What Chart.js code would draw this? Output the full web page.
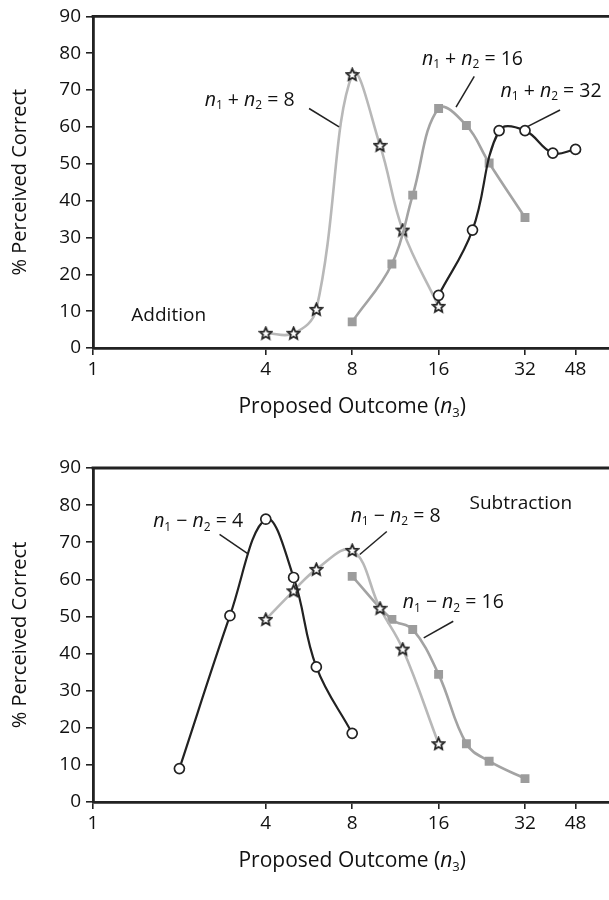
<!DOCTYPE html>
<html><head><meta charset="utf-8">
<script src="https://cdn.jsdelivr.net/npm/chart.js@4.4.1/dist/chart.umd.min.js"></script>
<style>
html,body{margin:0;padding:0;background:#fff;overflow:hidden;width:609px;height:900px}
.wrap{position:relative;width:620px;height:450px}
canvas{display:block}
</style></head>
<body>
<div class="wrap"><canvas id="c1" width="620" height="450"></canvas></div>
<div class="wrap"><canvas id="c2" width="620" height="450"></canvas></div>
<script>
// ---------- data ----------
const xTicks = [1, 4, 8, 16, 32, 48];
const yTicks = [0, 10, 20, 30, 40, 50, 60, 70, 80, 90];

const addX8  = [4, 5, 6, 8, 10, 12, 16];
const addY8  = [4, 4, 10.5, 74.2, 55, 32, 11.3];
const addX16 = [8, 11, 13, 16, 20, 24, 32];
const addY16 = [7.1, 22.8, 41.5, 65, 60.4, 50.2, 35.4];
const addX32 = [16, 21, 26, 32, 40, 48];
const addY32 = [14.3, 32, 59, 59, 52.9, 53.9];

const subX4  = [2, 3, 4, 5, 6, 8];
const subY4  = [9, 50.2, 76.2, 60.5, 36.4, 18.5];
const subX8  = [4, 5, 6, 8, 10, 12, 16];
const subY8  = [49.2, 56.9, 62.7, 67.8, 52.2, 41.2, 15.7];
const subX16 = [8, 11, 13, 16, 20, 24, 32];
const subY16 = [60.8, 49.2, 46.5, 34.4, 15.7, 11, 6.3];

// annotation labels: left x, center y, leader from (x,y) to (x,y), in data units
const addLabels = [
  {op:'+', val:'8',  x:2.45, y:67.2, l:[5.66,65,7.2,60]},
  {op:'+', val:'16', x:14.0, y:78.3, l:[21.3,73.7,18.4,65.4]},
  {op:'+', val:'32', x:26.3, y:69.6, l:[42.4,64.6,32.5,60]}
];
const subLabels = [
  {op:'\u2212', val:'4',  x:1.62, y:75.5, l:[2.76,72.1,3.48,66.8]},
  {op:'\u2212', val:'8',  x:7.9,  y:77,   l:[10.56,72.9,8.5,66.7]},
  {op:'\u2212', val:'16', x:12.0, y:53.7, l:[18,48.7,14.2,44.2]}
];
const addText = {t:'Addition', x:1.36, y:8.8};
const subText = {t:'Subtraction', x:20.5, y:80.3};

// ---------- styles ----------
const FONT = '"Open Sans", "Noto Sans", sans-serif';
const DARK = '#222222';
const LIGHT = '#b8b8b8';
const MID = '#a3a3a3';
const SQ = '#9c9c9c';

function starImg(){
  const c = document.createElement('canvas');
  c.width = 15; c.height = 15;
  const g = c.getContext('2d');
  g.beginPath();
  for (let i = 0; i < 10; i++) {
    const r = i % 2 === 0 ? 6.2 : 2.9;
    const a = -Math.PI/2 + i*Math.PI/5;
    const px = 7.5 + r*Math.cos(a), py = 7.9 + r*Math.sin(a);
    if (i === 0) g.moveTo(px, py); else g.lineTo(px, py);
  }
  g.closePath();
  g.fillStyle = '#fff'; g.fill();
  g.lineWidth = 1.8; g.strokeStyle = DARK; g.lineJoin = 'miter'; g.stroke();
  return c;
}
const STAR = starImg();

function pts(xs, ys){ return xs.map((x,i)=>({x:x, y:ys[i]})); }

function dsCircle(xs, ys){
  return {data: pts(xs, ys), borderColor: DARK, borderWidth: 2.2, tension: 0.4,
    pointStyle:'circle', pointRadius:5, pointBackgroundColor:'#fff',
    pointBorderColor: DARK, pointBorderWidth:1.7};
}
function dsStar(xs, ys){
  return {data: pts(xs, ys), borderColor: LIGHT, borderWidth: 2.6, tension: 0.4,
    pointStyle: STAR, pointRadius:6};
}
function dsSquare(xs, ys){
  return {data: pts(xs, ys), borderColor: MID, borderWidth: 2.6, tension: 0.4,
    pointStyle:'rect', pointRadius:6.3, pointBackgroundColor: SQ,
    pointBorderColor: SQ, pointBorderWidth:0};
}

function drawRich(ctx, parts, x, y, size, align){
  ctx.textBaseline = 'middle';
  ctx.textAlign = 'left';
  ctx.fillStyle = '#111';
  const fontFor = (k)=> k==='i' ? 'italic ' + size + 'px ' + FONT
                     : k==='s' ? Math.round(size*0.62) + 'px ' + FONT
                     : size + 'px ' + FONT;
  let w = 0;
  for (const [t,k] of parts){ ctx.font = fontFor(k); w += ctx.measureText(t).width; }
  let cx = align === 'center' ? x - w/2 : x;
  for (const [t, k] of parts){
    ctx.font = fontFor(k);
    const dy = k === 's' ? size*0.28 : 0;
    ctx.fillText(t, cx, y + dy);
    cx += ctx.measureText(t).width;
  }
}

function makePlugin(labels, note){
  return {
    id:'deco',
    afterDraw(chart){
      const ctx = chart.ctx, a = chart.chartArea;
      const xs = chart.scales.x, ys = chart.scales.y;
      ctx.save();
      // frame top / right
      ctx.strokeStyle = DARK; ctx.lineWidth = 2.8;
      ctx.beginPath(); ctx.moveTo(a.left - 1.4, a.top); ctx.lineTo(a.right + 2, a.top); ctx.stroke();
      ctx.beginPath(); ctx.moveTo(a.right, a.top); ctx.lineTo(a.right, a.bottom); ctx.stroke();
      // annotations
      for (const L of labels){
        drawRich(ctx, [['n','i'],['1','s'],[' '+L.op+' ','r'],['n','i'],['2','s'],[' = '+L.val,'r']],
          xs.getPixelForValue(L.x), ys.getPixelForValue(L.y), 19.5);
        ctx.strokeStyle = DARK; ctx.lineWidth = 1.5;
        ctx.beginPath();
        ctx.moveTo(xs.getPixelForValue(L.l[0]), ys.getPixelForValue(L.l[1]));
        ctx.lineTo(xs.getPixelForValue(L.l[2]), ys.getPixelForValue(L.l[3]));
        ctx.stroke();
      }
      ctx.font = '19px ' + FONT; ctx.fillStyle = '#111'; ctx.textBaseline = 'middle'; ctx.textAlign='left';
      ctx.fillText(note.t, xs.getPixelForValue(note.x), ys.getPixelForValue(note.y));
      // x title
      drawRich(ctx, [['Proposed Outcome (','r'],['n','i'],['3','s'],[')','r']],
        xs.getPixelForValue(8), a.bottom + 59, 21, 'center');
      // y title
      ctx.save();
      ctx.translate(20, (a.top + a.bottom)/2);
      ctx.rotate(-Math.PI/2);
      ctx.font = '20px ' + FONT; ctx.textAlign = 'center'; ctx.textBaseline = 'middle'; ctx.fillStyle = '#111';
      ctx.fillText('% Perceived Correct', 0, 0);
      ctx.restore();
      ctx.restore();
    }
  };
}

function makeChart(id, datasets, labels, note, padTop, bottomH){
  return new Chart(document.getElementById(id), {
    type:'line',
    data:{datasets},
    options:{
      responsive:false, animation:false, devicePixelRatio:1,
      layout:{padding:{top:padTop, left:0, right:0, bottom:0}},
      plugins:{legend:{display:false}, tooltip:{enabled:false}},
      scales:{
        x:{type:'logarithmic', min:1, max:64,
          afterBuildTicks(s){ s.ticks = xTicks.map(v=>({value:v})); },
          afterFit(s){ s.height = bottomH; },
          grid:{drawOnChartArea:false, drawTicks:true, tickLength:7, color:DARK, lineWidth:1.6},
          border:{display:true, color:DARK, width:2.8},
          ticks:{autoSkip:false, maxRotation:0, padding:3, color:'#111',
            font:{family:FONT, size:19}, callback:(v)=>String(v)}
        },
        y:{type:'linear', min:0, max:90,
          afterBuildTicks(s){ s.ticks = yTicks.map(v=>({value:v})); },
          afterFit(s){ s.width = 93; },
          grid:{drawOnChartArea:false, drawTicks:true, tickLength:7, color:DARK, lineWidth:1.6},
          border:{display:true, color:DARK, width:2.8},
          ticks:{padding:5, color:'#111', font:{family:FONT, size:19}}
        }
      }
    },
    plugins:[makePlugin(labels, note)]
  });
}

makeChart('c1', [dsCircle(addX32, addY32), dsSquare(addX16, addY16), dsStar(addX8, addY8)],
  addLabels, addText, 14, 102);
makeChart('c2', [dsCircle(subX4, subY4), dsStar(subX8, subY8), dsSquare(subX16, subY16)],
  subLabels, subText, 18, 98);
</script>
</body></html>
